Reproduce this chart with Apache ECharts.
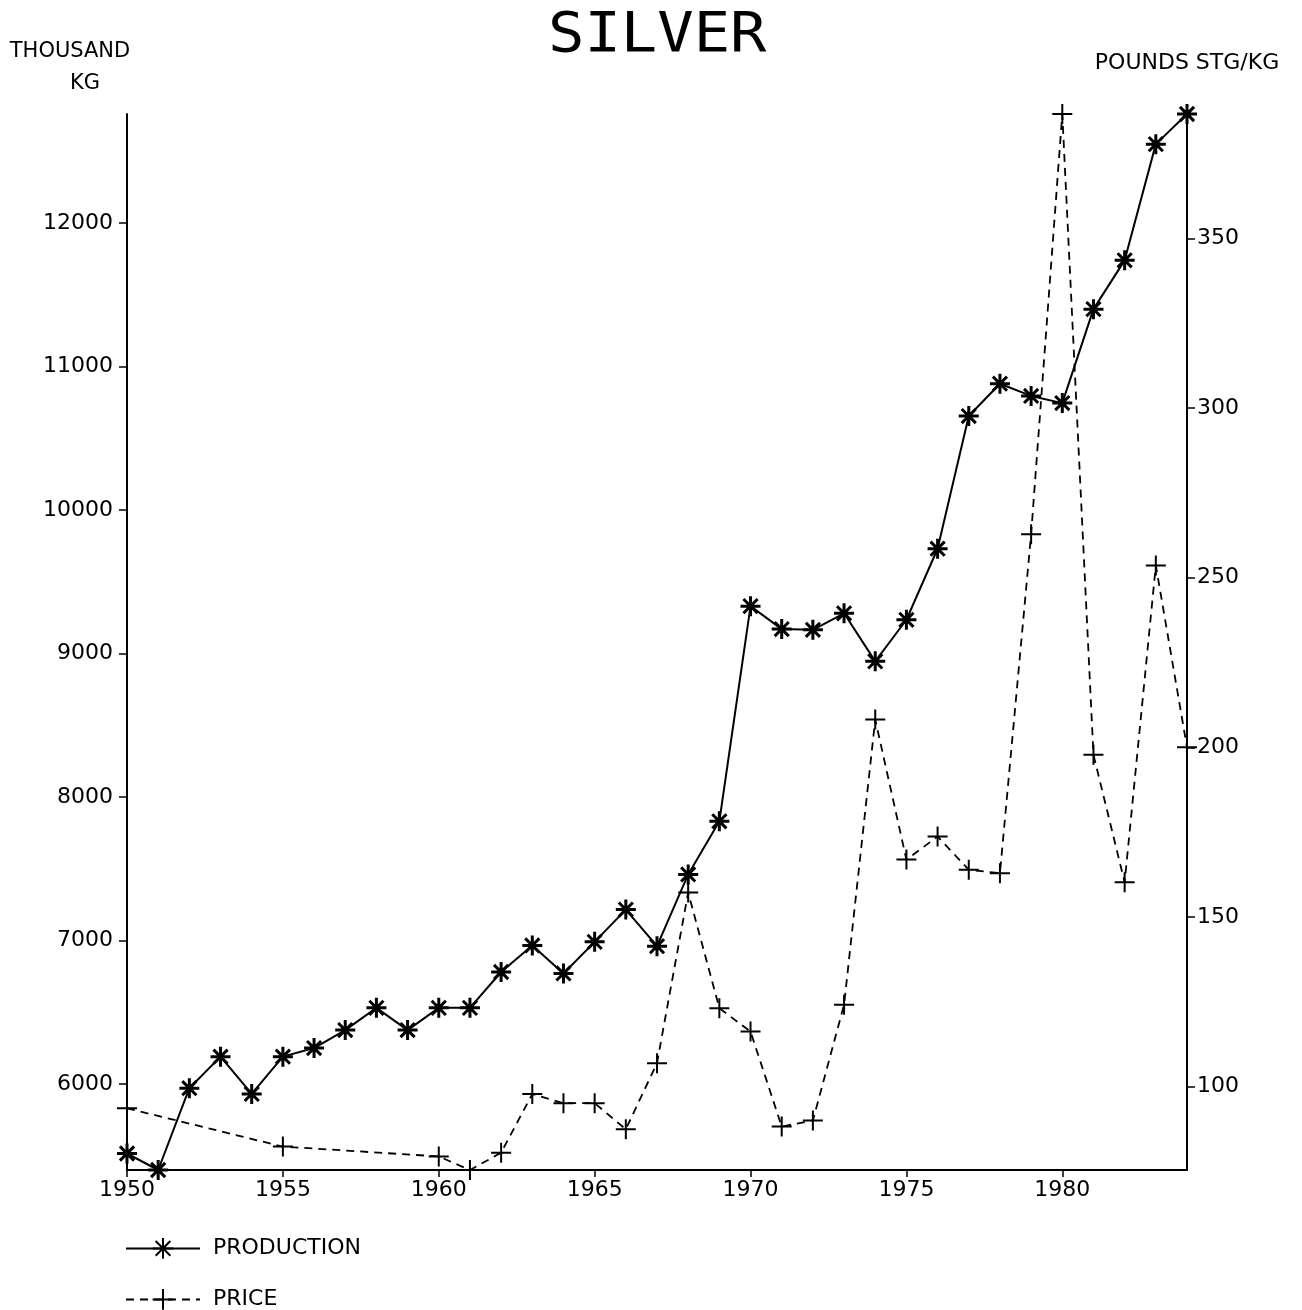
<!DOCTYPE html>
<html>
<head>
<meta charset="utf-8">
<title>SILVER</title>
<script src="https://cdn.jsdelivr.net/npm/echarts@6/dist/echarts.min.js"></script>
<style>
  html, body { margin: 0; padding: 0; background: #fff; }
  #chart { width: 1302px; height: 1310px; }
</style>
</head>
<body>
<div id="chart"></div>
<script>
// production, thousand kg, one value per year 1950-1984
const prodYears = []
for (let y = 1950; y <= 1984; y++) prodYears.push(y)
const production = [
  5515, 5400, 5970, 6190, 5930, 6190, 6250, 6375, 6530, 6375,
  6530, 6530, 6780, 6965, 6770, 6990, 7215, 6960, 7460, 7830,
  9330, 9170, 9165, 9280, 8945, 9235, 9730, 10655, 10880, 10795,
  10745, 11400, 11740, 12550, 12760
]
// price, pounds stg/kg (1951-54 and 1956-59 missing)
const priceYears = [1950, 1955, 1960, 1961, 1962, 1963, 1964, 1965, 1966, 1967,
  1968, 1969, 1970, 1971, 1972, 1973, 1974, 1975, 1976, 1977,
  1978, 1979, 1980, 1981, 1982, 1983, 1984]
const price = [93.6, 82.3, 79.4, 75.4, 80.5, 97.8, 95.1, 95.1, 87.4, 106.9,
  157.2, 123.1, 116.2, 88.2, 90.0, 124.1, 208.2, 166.9, 173.7, 163.9,
  162.9, 262.8, 386.7, 197.8, 160.2, 253.6, 200.0]
// tick labels
const yearTicks = [1950, 1955, 1960, 1965, 1970, 1975, 1980]
const leftTicks = [6000, 7000, 8000, 9000, 10000, 11000, 12000]
const rightTicks = [100, 150, 200, 250, 300, 350]

const FONT = 'DejaVu Sans'
const starPath = 'path://M0,-10L0,10M-10,0L10,0M-7.07,-7.07L7.07,7.07M-7.07,7.07L7.07,-7.07'
const plusPath = 'path://M0,-10L0,10M-10,0L10,0'
const plain = v => String(v)

const chart = echarts.init(document.getElementById('chart'))

// one legend per row, so the vertical list never wraps into columns
function legendRow (name, top) {
  return {
    orient: 'horizontal',
    left: 125,
    top: top,
    padding: 0,
    itemWidth: 74,
    itemHeight: 26,
    textStyle: { fontFamily: FONT, fontSize: 22, color: '#000', padding: [0, 0, 0, 8] },
    data: [name]
  }
}

const option = {
  backgroundColor: '#fff',
  animation: false,
  textStyle: { fontFamily: FONT, color: '#000' },
  grid: { left: 127, right: 115, top: 114, bottom: 140 },
  graphic: [
    {
      type: 'text', left: 548, top: 8, scaleX: 1.08,
      style: { text: 'SILVER', font: '56px "DejaVu Sans Mono"', fill: '#000' }
    },
    {
      type: 'text', x: 70, y: 52,
      style: { text: 'THOUSAND', font: '21px ' + FONT, fill: '#000', align: 'center', verticalAlign: 'middle' }
    },
    {
      type: 'text', x: 85, y: 84,
      style: { text: 'KG', font: '21px ' + FONT, fill: '#000', align: 'center', verticalAlign: 'middle' }
    },
    {
      type: 'text', x: 1187, y: 63,
      style: { text: 'POUNDS STG/KG', font: '22px ' + FONT, fill: '#000', align: 'center', verticalAlign: 'middle' }
    }
  ],
  legend: [legendRow('PRODUCTION', 1237), legendRow('PRICE', 1288)],
  xAxis: {
    type: 'value',
    min: 1950,
    max: 1984,
    interval: 5,
    splitLine: { show: false },
    axisLine: { show: true, onZero: false, lineStyle: { color: '#000', width: 2 } },
    axisTick: { show: true, length: 7, customValues: yearTicks, lineStyle: { color: '#000', width: 1.5 } },
    axisLabel: { fontFamily: FONT, fontSize: 22, color: '#000', margin: 9, customValues: yearTicks, formatter: plain }
  },
  yAxis: [
    {
      type: 'value',
      position: 'left',
      min: v => v.min,
      max: v => v.max,
      splitLine: { show: false },
      axisLine: { show: true, lineStyle: { color: '#000', width: 2 } },
      axisTick: { show: true, length: 8, customValues: leftTicks, lineStyle: { color: '#000', width: 1.5 } },
      axisLabel: { fontFamily: FONT, fontSize: 22, color: '#000', margin: 14, customValues: leftTicks, formatter: plain }
    },
    {
      type: 'value',
      position: 'right',
      min: v => v.min,
      max: v => v.max,
      splitLine: { show: false },
      axisLine: { show: true, lineStyle: { color: '#000', width: 2 } },
      axisTick: { show: true, length: 8, customValues: rightTicks, lineStyle: { color: '#000', width: 1.5 } },
      axisLabel: { fontFamily: FONT, fontSize: 22, color: '#000', margin: 10, customValues: rightTicks, formatter: plain }
    }
  ],
  series: [
    {
      name: 'PRODUCTION',
      type: 'line',
      yAxisIndex: 0,
      clip: false,
      data: prodYears.map((y, i) => [y, production[i]]),
      symbol: starPath,
      symbolSize: 20,
      lineStyle: { color: '#000', width: 2 },
      itemStyle: { color: '#000', borderColor: '#000', borderWidth: 3 }
    },
    {
      name: 'PRICE',
      type: 'line',
      yAxisIndex: 1,
      clip: false,
      data: priceYears.map((y, i) => [y, price[i]]),
      symbol: plusPath,
      symbolSize: 20,
      lineStyle: { color: '#000', width: 1.8, type: [8, 6] },
      itemStyle: { color: '#000', borderColor: '#000', borderWidth: 2 }
    }
  ]
}

chart.setOption(option)
</script>
</body>
</html>
